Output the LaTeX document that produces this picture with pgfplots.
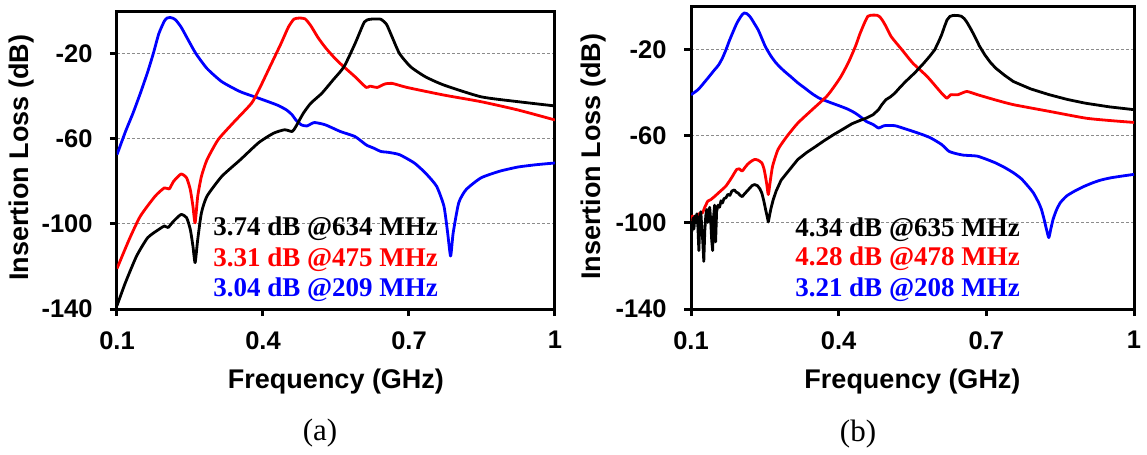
\documentclass[border=0pt]{standalone}
\usepackage{fontspec}
\setmainfont{Liberation Serif}
\setsansfont{Liberation Sans}
\usepackage{pgfplots}
\pgfplotsset{compat=1.18}

\pgfplotsset{
  ilstyle/.style={
    scale only axis,
    xmin=0.1, xmax=1, ymin=-140, ymax=0,
    xtick={0.1,0.4,0.7,1}, xticklabels={0.1,0.4,0.7,1},
    ytick={-140,-100,-60,-20}, yticklabels={-140,-100,-60,-20},
    tick align=outside, tickpos=left,
    major tick length=3.5pt,
    every tick/.style={black, line width=1.5pt},
    axis line style={line width=1.5pt},
    ymajorgrids,
    major grid style={black!45, line width=0.5pt, dash pattern=on 1.5pt off 1pt},
    tick label style={font=\sffamily\bfseries\fontsize{12.75}{15}\selectfont},
    label style={font=\sffamily\bfseries\fontsize{13.5}{16}\selectfont},
    xticklabel style={anchor=north, inner sep=0pt, yshift=-7.5pt},
    yticklabel style={anchor=east, inner sep=0pt, xshift=-8.5pt},
    xlabel={Frequency (GHz)},
    ylabel={Insertion Loss (dB)},
    every axis plot/.append style={line width=1.4pt, line join=round},
  },
}
\tikzset{
  note/.style={anchor=base west, inner sep=0pt,
    font=\bfseries\fontsize{13.5}{16}\selectfont},
  soft/.style={smooth, tension=0.35},
}

\begin{document}
\begin{tikzpicture}
\useasboundingbox (0,0) rectangle (573.5pt,-227.5pt);

% ---------------- (a) simulated ----------------
\begin{axis}[ilstyle,
  at={(58.5pt,-154.5pt)}, anchor=south west,
  width=219pt, height=149pt,
  xlabel style={at={(axis description cs:0.5,-0.268)}, anchor=base},
  ylabel style={at={(axis description cs:-0.217,0.507)}, anchor=center},
]
\addplot[blue, soft] coordinates {
(0.100,-67.5) (0.1175,-56.6) (0.1327,-48.1) (0.1479,-38.7) (0.1631,-28.6)
(0.1746,-20.0) (0.1860,-10.6) (0.1974,-4.7) (0.203,-3.3) (0.209,-3.04)
(0.215,-3.4) (0.2202,-4.1) (0.2316,-7.5) (0.2468,-13.8) (0.2621,-20.0)
(0.2849,-27.0) (0.3153,-33.2) (0.3533,-37.9) (0.3914,-41.0) (0.4294,-44.2)
(0.4484,-46.5) (0.4599,-48.8) (0.4675,-51.2) (0.4789,-53.5) (0.4903,-54.0)
(0.5055,-52.4) (0.5283,-53.5) (0.5588,-56.6) (0.5892,-59.0) (0.6120,-62.9)
(0.6272,-64.4) (0.6424,-66.0) (0.6577,-66.4) (0.6805,-67.5) (0.7109,-71.4)
(0.7337,-76.1) (0.7566,-82.3) (0.7718,-91.7) (0.7794,-104.2) (0.7855,-115.1)
(0.7908,-104.2) (0.8022,-90.1) (0.8174,-83.9) (0.8479,-78.4) (0.8859,-75.3)
(0.9239,-73.3) (0.9620,-72.2) (1.000,-71.4)
};
\addplot[red, soft] coordinates {
(0.100,-121.0) (0.1251,-107.3) (0.1479,-96.4) (0.1784,-87.0) (0.1974,-83.1)
(0.2073,-83.6) (0.2164,-80.0) (0.2316,-76.6) (0.2430,-78.4) (0.2506,-83.9)
(0.2560,-91.7) (0.2605,-99.5) (0.2659,-87.0) (0.2735,-77.7) (0.2849,-69.9)
(0.3077,-60.5) (0.3381,-52.7) (0.3762,-43.4) (0.3914,-37.1) (0.4142,-26.2)
(0.4370,-15.3) (0.4523,-7.5) (0.4637,-3.8) (0.475,-3.31) (0.4865,-3.7)
(0.4979,-6.8) (0.5131,-12.5) (0.5283,-17.2) (0.5436,-21.2) (0.5588,-24.7)
(0.5892,-30.9) (0.6120,-35.9) (0.6196,-35.3) (0.6348,-35.9) (0.6501,-34.3)
(0.6653,-34.0) (0.6957,-35.9) (0.7718,-39.5) (0.8479,-42.6) (0.9239,-46.5)
(1.000,-51.2)
};
\addplot[black, soft] coordinates {
(0.100,-138.4) (0.1175,-127.5) (0.1403,-115.1) (0.1631,-106.5) (0.1860,-102.6)
(0.1974,-101.0) (0.2050,-101.7) (0.2164,-98.7) (0.2316,-95.6) (0.2430,-97.1)
(0.2506,-102.6) (0.2560,-110.4) (0.2605,-118.2) (0.2659,-107.3) (0.2735,-94.8)
(0.2849,-87.0) (0.3153,-77.7) (0.3533,-69.9) (0.3914,-61.8) (0.4218,-57.4)
(0.4446,-55.8) (0.4599,-56.6) (0.4675,-54.3) (0.4827,-48.1) (0.4979,-43.4)
(0.5207,-38.7) (0.5436,-32.5) (0.5664,-26.2) (0.5892,-15.3) (0.6082,-5.2)
(0.6196,-3.9) (0.634,-3.74) (0.6425,-3.9) (0.6539,-6.3) (0.6653,-12.2)
(0.6805,-20.0) (0.7033,-26.2) (0.7337,-30.9) (0.7718,-34.8) (0.8479,-40.3)
(0.9239,-42.6) (1.000,-44.6)
};
\node[note, text=black] at (axis cs:0.297,-105.7) {3.74 dB @634 MHz};
\node[note, text=red]   at (axis cs:0.297,-119.8) {3.31 dB @475 MHz};
\node[note, text=blue]  at (axis cs:0.297,-133.9) {3.04 dB @209 MHz};
\end{axis}

% ---------------- (b) measured ----------------
\begin{axis}[ilstyle,
  at={(345.5pt,-154.5pt)}, anchor=south west,
  width=221.5pt, height=151.5pt,
  xlabel style={at={(axis description cs:0.5,-0.264)}, anchor=base},
  ylabel style={at={(axis description cs:-0.221,0.502)}, anchor=center},
]
\addplot[blue, soft] coordinates {
(0.100,-41.0) (0.115,-38.5) (0.1343,-33.3) (0.146,-30.0) (0.1562,-27.2)
(0.164,-24.0) (0.1709,-20.3) (0.178,-16.0) (0.1855,-11.9) (0.193,-8.0)
(0.200,-5.3) (0.204,-4.0) (0.208,-3.21) (0.213,-3.5) (0.217,-4.2)
(0.222,-5.6) (0.229,-8.2) (0.2366,-11.1) (0.244,-15.0) (0.2512,-18.8)
(0.262,-23.0) (0.2731,-26.4) (0.288,-29.8) (0.3024,-32.6) (0.317,-35.5)
(0.3316,-38.0) (0.346,-40.5) (0.3608,-42.6) (0.383,-44.6) (0.4046,-46.4)
(0.420,-47.8) (0.4338,-49.5) (0.446,-51.5) (0.4558,-53.3) (0.4704,-54.8)
(0.4813,-56.4) (0.4923,-55.3) (0.5142,-55.3) (0.533,-56.6) (0.5507,-57.9)
(0.570,-59.4) (0.5873,-61.0) (0.6092,-64.0) (0.6238,-67.1) (0.6384,-68.2)
(0.6530,-68.9) (0.6676,-69.1) (0.6822,-69.4) (0.700,-70.8) (0.7187,-72.5)
(0.737,-74.6) (0.7553,-77.1) (0.771,-79.8) (0.7845,-83.2) (0.796,-86.5)
(0.8064,-90.9) (0.812,-94.0) (0.8174,-98.6) (0.822,-103.0) (0.8269,-107.0)
(0.831,-103.0) (0.8356,-98.6) (0.842,-94.5) (0.8502,-90.9) (0.863,-87.8)
(0.8795,-85.5) (0.897,-83.5) (0.9160,-81.7) (0.933,-80.4) (0.9525,-79.4)
(0.975,-78.6) (1.000,-77.8)
};
\addplot[red, soft] coordinates {
(0.100,-99.3) (0.103,-97.0) (0.106,-100.0) (0.109,-97.5) (0.1124,-97.8)
(0.116,-96.0) (0.1234,-95.5) (0.128,-93.0) (0.1343,-90.1) (0.140,-89.5)
(0.1489,-87.8) (0.160,-85.5) (0.1709,-83.2) (0.182,-79.5) (0.1928,-75.5)
(0.198,-75.2) (0.2037,-76.3) (0.209,-74.8) (0.2147,-73.2) (0.222,-71.8)
(0.2293,-70.9) (0.236,-71.2) (0.2439,-72.5) (0.248,-75.0) (0.2512,-78.6)
(0.254,-82.5) (0.2571,-87.1) (0.261,-81.0) (0.2658,-74.0) (0.2768,-66.3)
(0.2950,-60.2) (0.3170,-54.1) (0.3462,-47.9) (0.3754,-41.8) (0.390,-37.5)
(0.4046,-32.6) (0.420,-26.0) (0.4338,-18.8) (0.443,-13.0) (0.4521,-8.0)
(0.4594,-4.7) (0.465,-4.3) (0.472,-4.2) (0.478,-4.28) (0.483,-4.9)
(0.4886,-6.5) (0.497,-9.8) (0.5069,-14.2) (0.5288,-20.3) (0.5507,-26.4)
(0.5799,-32.6) (0.6092,-40.3) (0.6201,-42.6) (0.6274,-41.0) (0.6420,-41.0)
(0.6603,-39.5) (0.6822,-41.0) (0.720,-43.5) (0.7553,-45.6) (0.8283,-48.7)
(0.9014,-51.8) (0.950,-52.9) (1.000,-53.8)
};
\addplot[black] coordinates {
(0.100,-101) (0.102,-104) (0.104,-98) (0.106,-103) (0.108,-97)
(0.110,-100) (0.112,-96) (0.114,-102) (0.116,-113) (0.118,-99)
(0.120,-95) (0.122,-103) (0.124,-109) (0.126,-118) (0.128,-104)
(0.130,-97) (0.132,-94) (0.134,-100) (0.136,-96) (0.138,-93)
(0.140,-99) (0.142,-108) (0.144,-113) (0.146,-97) (0.148,-92)
(0.150,-109) (0.152,-95) (0.155,-92) (0.158,-93) (0.161,-90)
(0.164,-91) (0.167,-89) (0.171,-88.6) (0.175,-87) (0.179,-87.5)
(0.183,-85.5) (0.188,-85) (0.192,-86) (0.196,-86.5) (0.200,-87.5)
(0.204,-88.1) (0.208,-87) (0.212,-86) (0.218,-84.5) (0.224,-83)
(0.229,-82.5) (0.235,-83) (0.240,-84.5) (0.244,-86.5) (0.248,-90.1)
(0.252,-94.5) (0.255,-97.5) (0.257,-99.8) (0.259,-97.5) (0.262,-94)
(0.267,-89.5) (0.273,-85.5) (0.283,-80.5) (0.295,-77.1) (0.317,-70.9)
(0.335,-67.7) (0.354,-64.8) (0.372,-62) (0.390,-59.4) (0.408,-57)
(0.427,-54.4) (0.442,-53) (0.456,-51.8) (0.470,-50.2) (0.481,-47.9)
(0.488,-45.5) (0.496,-43.3) (0.505,-42) (0.514,-40.3) (0.525,-37.5)
(0.536,-34.9) (0.555,-30.8) (0.573,-26.4) (0.585,-23.2) (0.595,-20.3)
(0.603,-16.5) (0.609,-13.4) (0.615,-9.5) (0.620,-6.5) (0.626,-4.8)
(0.632,-4.4) (0.635,-4.34) (0.642,-4.4) (0.649,-4.7) (0.655,-5.8)
(0.660,-7.3) (0.667,-10) (0.675,-13.4) (0.686,-18.5) (0.697,-22.6)
(0.708,-26) (0.719,-28.7) (0.737,-32) (0.755,-34.9) (0.790,-38.3)
(0.828,-41.0) (0.865,-43.2) (0.901,-44.9) (0.950,-46.6) (1.000,-47.9)
};
\node[note, text=black] at (axis cs:0.311,-106.3) {4.34 dB @635 MHz};
\node[note, text=red]   at (axis cs:0.311,-120.1) {4.28 dB @478 MHz};
\node[note, text=blue]  at (axis cs:0.311,-134.0) {3.21 dB @208 MHz};
\end{axis}

\node[font=\fontsize{15.5}{18}\selectfont] at (160pt,-216.5pt) {(a)};
\node[font=\fontsize{15.5}{18}\selectfont] at (429pt,-217pt) {(b)};
\end{tikzpicture}
\end{document}
